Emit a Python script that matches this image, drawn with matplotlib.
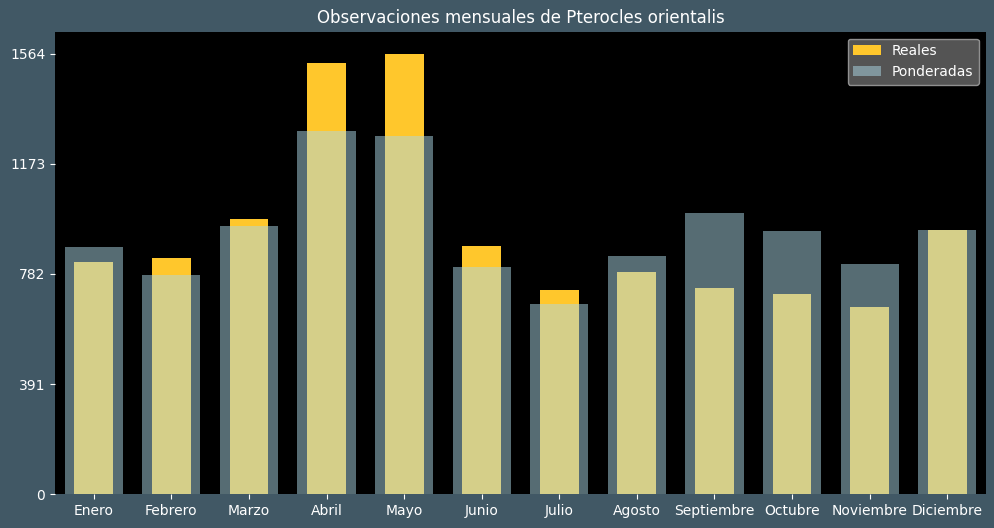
import numpy as np
import matplotlib.pyplot as plt

meses = ["Enero", "Febrero", "Marzo", "Abril", "Mayo", "Junio", "Julio",
         "Agosto", "Septiembre", "Octubre", "Noviembre", "Diciembre"]
reales = [826, 840, 976, 1530, 1564, 883, 725, 790, 733, 712, 665, 937]
ponderadas = [879, 777, 954, 1290, 1272, 808, 676, 844, 997, 933, 819, 937]

fondo = "#415865"
x = np.arange(len(meses))

fig, ax = plt.subplots(figsize=(9.94, 5.28), dpi=100)
fig.patch.set_facecolor(fondo)
ax.set_facecolor("black")

ax.bar(x, reales, width=0.5, color="#FFC72C", label="Reales", zorder=2)
ax.bar(x, ponderadas, width=0.75, color="lightblue", alpha=0.5,
       label="Ponderadas", zorder=3)

ymax = max(reales)
ax.set_yticks(np.linspace(0, ymax, 5).round().astype(int))
ax.set_ylim(0, ymax * 1.05)
ax.set_xlim(-0.5, len(meses) - 0.5)
ax.set_xticks(x)
ax.set_xticklabels(meses)
ax.tick_params(colors="white", labelsize=10)
for s in ax.spines.values():
    s.set_visible(False)

ax.set_title("Observaciones mensuales de Pterocles orientalis", color="white", fontsize=12)
leg = ax.legend(loc="upper right", facecolor="#6a6a6a", edgecolor="#aaaaaa",
                labelcolor="white", fontsize=10)

plt.subplots_adjust(left=0.0553, right=0.992, top=0.94, bottom=0.064)
plt.savefig("out.png", facecolor=fondo)
